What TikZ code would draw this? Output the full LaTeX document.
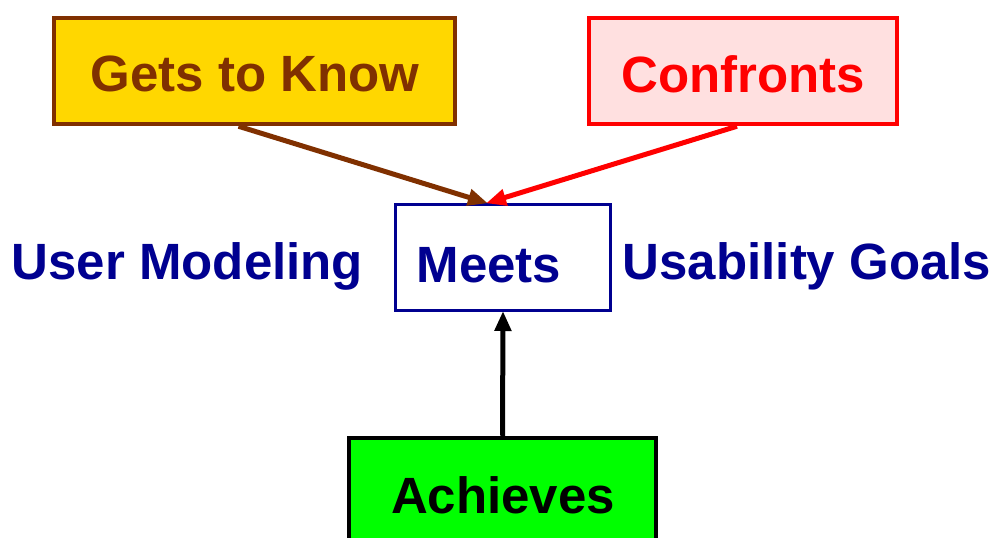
\documentclass[tikz,border=0pt]{standalone}
\usepackage{fontspec}
\setmainfont{Liberation Sans}
\usetikzlibrary{arrows.meta}
\definecolor{navyblue}{RGB}{0,0,144}
\definecolor{brownish}{RGB}{128,48,0}
\definecolor{goldfill}{RGB}{255,215,0}
\definecolor{pinkfill}{RGB}{255,224,224}
\definecolor{brightred}{RGB}{255,0,0}
\definecolor{limegreen}{RGB}{0,255,0}
\tikzset{
  box/.style={rectangle, draw, line width=4.5pt, inner sep=0pt},
  caption/.style={font=\fontsize{51}{60}\selectfont\bfseries, inner sep=0pt},
  label/.style={caption, text=navyblue},
  link/.style={line width=5pt, -{Triangle[length=20pt,width=16pt]}, shorten >=-1pt},
}
\begin{document}
\begin{tikzpicture}[x=1pt,y=-1pt]
  \clip (0,0) rectangle (996,538);
  \fill[white] (0,0) rectangle (996,538);
  % boxes
  \node[box, draw=brownish, fill=goldfill, minimum width=401pt, minimum height=106pt] (gets) at (254.5,71) {};
  \node[caption, text=brownish] (getsText) at (255,74) {Gets to Know};
  \node[box, draw=brightred, fill=pinkfill, minimum width=308pt, minimum height=106pt] (conf) at (743,71) {};
  \node[caption, text=brightred] (confText) at (743,74) {Confronts};
  \node[box, draw=navyblue, line width=3pt, fill=white, minimum width=215pt, minimum height=106pt] (meets) at (503,257.5) {};
  \node[label] (meetsText) at (489,265) {Meets};
  \node[box, draw=black, fill=limegreen, minimum width=307pt, minimum height=114pt] (ach) at (502.5,495) {};
  \node[caption] (achText) at (503,495) {Achieves};
  % side labels
  \node[label] (um) at (187.5,266) {User Modeling};
  \node[label] (ug) at (807,266) {Usability Goals};
  % connectors
  \draw[link, brownish] ([xshift=-16pt]gets.south) -- ([xshift=-16pt]meets.north);
  \draw[link, brightred] ([xshift=-6pt]conf.south) -- ([xshift=-16pt]meets.north);
  \draw[link, black] (ach.north) -- (meets.south);
\end{tikzpicture}
\end{document}
